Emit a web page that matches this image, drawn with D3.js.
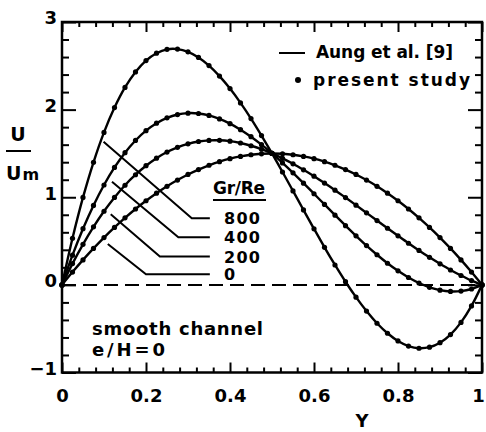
<html>
<head>
<meta charset="utf-8">
<script src="https://d3js.org/d3.v7.min.js"></script>
<style>
    body { margin: 0; background: white; }
    text { font-family: 'DejaVu Sans', sans-serif; font-weight: bold; fill: black; }
</style>
</head>
<body>
<div id="chart"></div>
<script>

// channel position Y
var yPos = [0, 0.025, 0.05, 0.075, 0.1, 0.125, 0.15, 0.175, 0.2, 0.225, 0.25, 0.275, 0.3, 0.325, 0.35, 0.375, 0.4, 0.425, 0.45, 0.475, 0.5,
            0.525, 0.55, 0.575, 0.6, 0.625, 0.65, 0.675, 0.7, 0.725, 0.75, 0.775, 0.8, 0.825, 0.85, 0.875, 0.9, 0.925, 0.95, 0.975, 1];

// U/Um for each Gr/Re
var u0   = [0, 0.146, 0.285, 0.416, 0.54, 0.656, 0.765, 0.866, 0.96, 1.046, 1.125, 1.196, 1.26, 1.316, 1.365, 1.406, 1.44, 1.466, 1.485, 1.496, 1.5,
            1.496, 1.485, 1.466, 1.44, 1.406, 1.365, 1.316, 1.26, 1.196, 1.125, 1.046, 0.96, 0.866, 0.765, 0.656, 0.54, 0.416, 0.285, 0.146, 0];
var u200 = [0, 0.243, 0.463, 0.662, 0.84, 0.998, 1.137, 1.257, 1.36, 1.446, 1.516, 1.57, 1.61, 1.636, 1.649, 1.65, 1.64, 1.619, 1.588, 1.548, 1.5,
            1.444, 1.382, 1.313, 1.24, 1.162, 1.081, 0.996, 0.91, 0.822, 0.734, 0.646, 0.56, 0.475, 0.393, 0.314, 0.24, 0.17, 0.107, 0.049, 0];
var u400 = [0, 0.339, 0.641, 0.907, 1.14, 1.34, 1.509, 1.648, 1.76, 1.845, 1.906, 1.944, 1.96, 1.956, 1.934, 1.894, 1.84, 1.771, 1.691, 1.6, 1.5,
            1.392, 1.279, 1.161, 1.04, 0.918, 0.796, 0.676, 0.56, 0.448, 0.344, 0.247, 0.16, 0.084, 0.021, -0.028, -0.06, -0.075, -0.071, -0.047, 0];
var u800 = [0, 0.532, 0.998, 1.399, 1.74, 2.023, 2.253, 2.43, 2.56, 2.644, 2.688, 2.691, 2.66, 2.596, 2.503, 2.383, 2.24, 2.077, 1.898, 1.704, 1.5,
            1.288, 1.072, 0.855, 0.64, 0.429, 0.227, 0.036, -0.14, -0.299, -0.438, -0.552, -0.64, -0.698, -0.723, -0.711, -0.66, -0.567, -0.428, -0.24, 0];

var grRe = ["800", "400", "200", "0"];
var series = [u800, u400, u200, u0];

// leader lines for the Gr/Re labels (data coords: start, elbow, end)
var leaders = [
    [[0.099, 1.634], [0.309, 0.761], [0.352, 0.761]],
    [[0.119, 1.178], [0.277, 0.544], [0.352, 0.544]],
    [[0.116, 0.806], [0.233, 0.323], [0.352, 0.323]],
    [[0.109, 0.467], [0.200, 0.122], [0.352, 0.122]]
];

var xMajor = [0, 0.2, 0.4, 0.6, 0.8, 1];
var yMajor = [-1, 0, 1, 2, 3];

var svg = d3.select("#chart")
    .append("svg")
    .attr("width", 486)
    .attr("height", 432);

var x = d3.scaleLinear().domain([0, 1]).range([62, 482]);
var y = d3.scaleLinear().domain([-1, 3]).range([372.5, 22]);

var xMinor = d3.range(0, 51).map(function(i) { return i * 0.02; }).filter(function(v, i) { return i % 2 == 0 && i % 10 != 0; });
var yMinor = d3.range(0, 21).map(function(i) { return -1 + i * 0.2; }).filter(function(v, i) { return i % 5 != 0; });

function styleAxis(g) {
    g.select(".domain").remove();
    g.selectAll(".tick line").attr("stroke", "black").attr("stroke-width", 2);
    g.selectAll(".tick text")
        .style("font-family", "'DejaVu Sans', sans-serif")
        .style("font-weight", "bold")
        .style("font-size", "18px");
}

// bottom / top
var bottomAxis = svg.append("g").attr("transform", "translate(0," + y(-1) + ")")
    .call(d3.axisBottom(x).tickValues(xMajor).tickSize(-10).tickPadding(17).tickFormat(d3.format("")))
    .call(styleAxis);
bottomAxis.selectAll(".tick text").filter(function(d) { return d == 1; }).attr("dx", "-4");
svg.append("g").attr("transform", "translate(0," + y(-1) + ")")
    .call(d3.axisBottom(x).tickValues(xMinor).tickSize(-5).tickFormat(""))
    .call(styleAxis);
svg.append("g").attr("transform", "translate(0," + y(3) + ")")
    .call(d3.axisTop(x).tickValues(xMajor).tickSize(-10).tickFormat(""))
    .call(styleAxis);
svg.append("g").attr("transform", "translate(0," + y(3) + ")")
    .call(d3.axisTop(x).tickValues(xMinor).tickSize(-5).tickFormat(""))
    .call(styleAxis);

// left / right
var leftAxis = svg.append("g").attr("transform", "translate(" + x(0) + ",0)")
    .call(d3.axisLeft(y).tickValues(yMajor).tickSize(-14).tickPadding(5).tickFormat(d3.format("")))
    .call(styleAxis);
leftAxis.selectAll(".tick text").attr("dy", "0.1em");
svg.append("g").attr("transform", "translate(" + x(0) + ",0)")
    .call(d3.axisLeft(y).tickValues(yMinor).tickSize(-7).tickFormat(""))
    .call(styleAxis);
svg.append("g").attr("transform", "translate(" + x(1) + ",0)")
    .call(d3.axisRight(y).tickValues(yMajor).tickSize(-14).tickFormat(""))
    .call(styleAxis);
svg.append("g").attr("transform", "translate(" + x(1) + ",0)")
    .call(d3.axisRight(y).tickValues(yMinor).tickSize(-7).tickFormat(""))
    .call(styleAxis);

// frame
svg.append("rect")
    .attr("x", x(0))
    .attr("y", y(3))
    .attr("width", x(1) - x(0))
    .attr("height", y(-1) - y(3))
    .style("fill", "none")
    .style("stroke", "black")
    .style("stroke-width", 2.5);

// zero line
svg.append("line")
    .attr("x1", x(0)).attr("y1", y(0))
    .attr("x2", x(1)).attr("y2", y(0))
    .style("stroke", "black")
    .style("stroke-width", 2)
    .style("stroke-dasharray", "14,7");

// profiles
var line = d3.line()
    .x(function(d) { return x(d[0]); })
    .y(function(d) { return y(d[1]); })
    .curve(d3.curveCatmullRom);

series.forEach(function(s) {
    var pts = yPos.map(function(v, i) { return [v, s[i]]; });
    svg.append("path")
        .datum(pts)
        .attr("d", line)
        .style("fill", "none")
        .style("stroke", "black")
        .style("stroke-width", 2.4);
    svg.selectAll(null)
        .data(pts)
        .enter().append("circle")
        .attr("cx", function(d) { return x(d[0]); })
        .attr("cy", function(d) { return y(d[1]); })
        .attr("r", 2.6)
        .style("fill", "black");
});

// Gr/Re leaders and labels
leaders.forEach(function(l, i) {
    svg.append("path")
        .datum(l)
        .attr("d", d3.line().x(function(d) { return x(d[0]); }).y(function(d) { return y(d[1]); }))
        .style("fill", "none")
        .style("stroke", "black")
        .style("stroke-width", 2);
    svg.append("text")
        .attr("x", 224)
        .attr("y", y(l[2][1]) + 6)
        .attr("textLength", grRe[i].length * 12)
        .style("font-size", "16px")
        .text(grRe[i]);
});

svg.append("text")
    .attr("x", 213)
    .attr("y", 194)
    .attr("textLength", 52)
    .style("font-size", "17px")
    .text("Gr/Re");
svg.append("line")
    .attr("x1", 213).attr("y1", 200)
    .attr("x2", 266).attr("y2", 200)
    .style("stroke", "black")
    .style("stroke-width", 2);

// legend
svg.append("line")
    .attr("x1", 279).attr("y1", 53)
    .attr("x2", 305).attr("y2", 53)
    .style("stroke", "black")
    .style("stroke-width", 2);
svg.append("text")
    .attr("x", 316)
    .attr("y", 58)
    .attr("textLength", 137)
    .style("font-size", "17px")
    .text("Aung et al. [9]");
svg.append("circle")
    .attr("cx", 298)
    .attr("cy", 80)
    .attr("r", 3)
    .style("fill", "black");
svg.append("text")
    .attr("x", 313)
    .attr("y", 86)
    .attr("textLength", 157)
    .style("font-size", "17px")
    .text("present study");

// annotation
svg.append("text")
    .attr("x", 92)
    .attr("y", 335)
    .attr("textLength", 171)
    .style("font-size", "18px")
    .text("smooth channel");
svg.append("text")
    .attr("x", 92)
    .attr("y", 356)
    .attr("textLength", 73)
    .style("font-size", "18px")
    .text("e/H=0");

// axis titles
svg.append("text")
    .attr("x", 362)
    .attr("y", 427)
    .attr("text-anchor", "middle")
    .style("font-size", "18px")
    .text("Y");

svg.append("text")
    .attr("x", 18)
    .attr("y", 141)
    .attr("text-anchor", "middle")
    .style("font-size", "19px")
    .text("U");
svg.append("line")
    .attr("x1", 6).attr("y1", 151)
    .attr("x2", 31).attr("y2", 151)
    .style("stroke", "black")
    .style("stroke-width", 2);
var um = svg.append("text")
    .attr("x", 6)
    .attr("y", 180)
    .style("font-size", "19px")
    .text("U");
um.append("tspan")
    .style("font-size", "16px")
    .attr("dx", 1)
    .text("m");

</script>
</body>
</html>
